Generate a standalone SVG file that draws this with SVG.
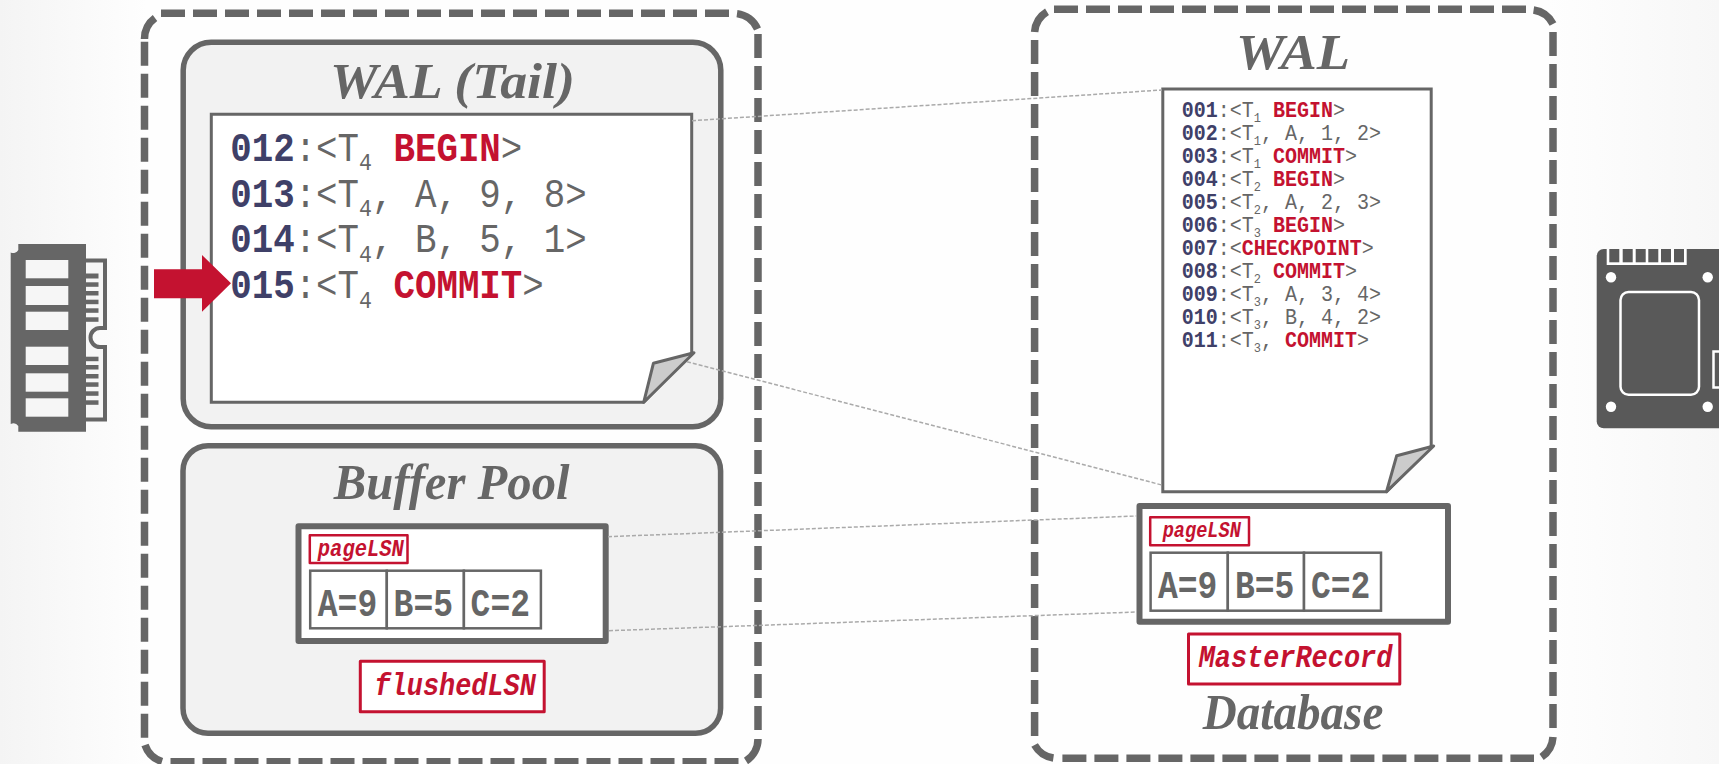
<svg xmlns="http://www.w3.org/2000/svg" width="1719" height="764" viewBox="0 0 1719 764">
<style>
.dash{fill:none;stroke:#666;stroke-width:7.5;stroke-dasharray:24 8}
.arc{fill:none;stroke:#666;stroke-width:7.5}
.panel{fill:#f2f2f2;stroke:#666;stroke-width:5.5}
.doc{fill:#fff;stroke:#666;stroke-width:3;stroke-linejoin:miter}
.fold{fill:#ccc;stroke:#666;stroke-width:3;stroke-linejoin:round}
.page{fill:#fff;stroke:#666;stroke-width:6;stroke-linejoin:round}
.cell{fill:#fff;stroke:#666;stroke-width:2.5}
.tag{fill:#fff;stroke:#c41230;stroke-linejoin:round}
.title{font-family:"Liberation Serif",serif;font-weight:bold;font-style:italic;font-size:51px;fill:#666}
.log{font-family:"Liberation Mono",monospace;fill:#666}
.big{font-size:35.8px}
.small{font-size:20px}
.n{font-weight:bold;fill:#3f4068}
.r{font-weight:bold;fill:#c41230}
.val{font-family:"Liberation Mono",monospace;font-weight:bold;font-size:33px;fill:#666}
.lsn{font-family:"Liberation Mono",monospace;font-weight:bold;font-style:italic;fill:#c41230}
.link{fill:none;stroke:#aaa;stroke-width:1.5;stroke-dasharray:4 2}
.wh{fill:#fff}
.win{fill:#f6f6f6}
.ic{fill:#666}
.ssd{fill:#595959}
.wl{fill:none;stroke:#fff;stroke-width:2.5}
</style>
<defs>
<linearGradient id="bg" x1="0" y1="0" x2="1" y2="0">
<stop offset="0" stop-color="#f4f4f4"/><stop offset="0.085" stop-color="#fefefe"/><stop offset="0.9" stop-color="#fefefe"/><stop offset="1" stop-color="#f7f7f7"/>
</linearGradient>
</defs>
<rect width="1719" height="764" fill="url(#bg)"/>

<g id="memory-icon">
<path class="ic" d="M18.3,244H86V431.7H18.3V426A6,6 0 0 0 10.7,424V252.5A6,6 0 0 0 18.3,250Z"/>
<path d="M86,260.5H105V328H100A9.5,9.5 0 0 0 100,347H105V419.5H86" fill="#f6f6f6" stroke="#666" stroke-width="4"/>
<g class="win">
<rect x="25.7" y="260" width="42.6" height="18.3"/><rect x="25.7" y="286" width="42.6" height="19"/><rect x="25.7" y="311.7" width="42.6" height="18.3"/>
<rect x="25.7" y="346.7" width="42.6" height="18.3"/><rect x="25.7" y="373.3" width="42.6" height="18.4"/><rect x="25.7" y="398.3" width="42.6" height="18.4"/>
</g>
<g class="ic">
<rect x="86" y="273.5" width="12.5" height="5"/><rect x="86" y="282.3" width="12.5" height="4.5"/><rect x="86" y="291" width="12.5" height="4.5"/><rect x="86" y="299.7" width="12.5" height="4.5"/><rect x="86" y="308.3" width="12.5" height="4.5"/><rect x="86" y="317.3" width="12.5" height="4.5"/>
<rect x="86" y="356.7" width="12.5" height="4.5"/><rect x="86" y="365" width="12.5" height="4.5"/><rect x="86" y="374" width="12.5" height="4.5"/><rect x="86" y="382.3" width="12.5" height="4.5"/><rect x="86" y="391.3" width="12.5" height="4.5"/><rect x="86" y="400.3" width="12.5" height="4.5"/>
</g>
</g>

<g id="memory-frame">
<path class="dash" d="M161,13.3H729.5M758,34V731M170.5,761.7H739M144.5,41.7V737.7"/>
<path class="arc" d="M737,13.6A26,26 0 0 1 757.5,29M758,739A26,26 0 0 1 746,761M162,761.5A26,26 0 0 1 145,745M144.5,39A26,26 0 0 1 155,18"/>
</g>

<g id="disk-frame">
<path class="dash" d="M1054,9.3H1526M1553,32V728M1062.4,758.3H1534M1034.6,40V736"/>
<path class="arc" d="M1533.6,10A26,26 0 0 1 1553,24M1553,737A26,26 0 0 1 1541.6,757M1053.4,758A26,26 0 0 1 1034.6,745M1034.6,32A26,26 0 0 1 1047,11.7"/>
</g>

<g id="wal-tail">
<rect class="panel" x="183.2" y="42.3" width="537.6" height="384.4" rx="28"/>
<text class="title" x="330" y="97.7" textLength="245" lengthAdjust="spacingAndGlyphs">WAL (Tail)</text>
<path class="doc" d="M211.3,114.3H691.7V352.7L643.7,402.3H211.3Z"/>
<path class="fold" d="M694,352.7L653.4,363.3L643.7,402.3Z"/>
<g class="log big">
<text transform="translate(230.2,160.7) scale(1,1.13)"><tspan class="n">012</tspan>:&lt;T<tspan font-size="21.5" dy="8.4">4</tspan><tspan dy="-8.4"> </tspan><tspan class="r">BEGIN</tspan>&gt;</text>
<text transform="translate(230.2,206.7) scale(1,1.13)"><tspan class="n">013</tspan>:&lt;T<tspan font-size="21.5" dy="8.4">4</tspan><tspan dy="-8.4">, A, 9, 8&gt;</tspan></text>
<text transform="translate(230.2,252.4) scale(1,1.13)"><tspan class="n">014</tspan>:&lt;T<tspan font-size="21.5" dy="8.4">4</tspan><tspan dy="-8.4">, B, 5, 1&gt;</tspan></text>
<text transform="translate(230.2,298.3) scale(1,1.13)"><tspan class="n">015</tspan>:&lt;T<tspan font-size="21.5" dy="8.4">4</tspan><tspan dy="-8.4"> </tspan><tspan class="r">COMMIT</tspan>&gt;</text>
</g>
</g>

<g id="buffer-pool">
<rect class="panel" x="183" y="445.7" width="537.6" height="287.6" rx="25"/>
<text class="title" x="333.8" y="499" textLength="235.7" lengthAdjust="spacingAndGlyphs">Buffer Pool</text>
</g>

<g id="buffer-page">
<rect class="page" x="298.5" y="526.3" width="307.2" height="114.7"/>
<rect class="tag" stroke-width="2.5" x="309.8" y="535.3" width="97.7" height="27.7"/>
<text class="lsn" font-size="20.5" transform="translate(317.8,556) scale(1,1.15)">pageLSN</text>
<rect class="cell" x="310.2" y="570.7" width="76.6" height="57.6"/>
<rect class="cell" x="386.8" y="570.7" width="77.1" height="57.6"/>
<rect class="cell" x="463.9" y="570.7" width="77" height="57.6"/>
<text class="val" transform="translate(317.8,615.7) scale(1,1.2)">A=9</text>
<text class="val" transform="translate(393.6,615.7) scale(1,1.2)">B=5</text>
<text class="val" transform="translate(470.6,615.7) scale(1,1.2)">C=2</text>
</g>

<g id="flushed-lsn">
<rect class="tag" stroke-width="3" x="360.3" y="661.3" width="183.9" height="50.4"/>
<text class="lsn" font-size="26.9" transform="translate(374.5,695) scale(1,1.15)">flushedLSN</text>
</g>

<g id="wal-disk">
<text class="title" x="1236" y="69.3" textLength="114" lengthAdjust="spacingAndGlyphs">WAL</text>
<path class="doc" d="M1162.8,89H1431.2V446L1386.5,491.7H1162.8Z"/>
<path class="fold" d="M1433.7,446L1396.7,455.7L1386.5,491.7Z"/>
<g class="log small">
<text transform="translate(1181.8,116.7) scale(1,1.13)"><tspan class="n">001</tspan>:&lt;T<tspan font-size="12" dy="4.4">1</tspan><tspan dy="-4.4"> </tspan><tspan class="r">BEGIN</tspan>&gt;</text>
<text transform="translate(1181.8,139.7) scale(1,1.13)"><tspan class="n">002</tspan>:&lt;T<tspan font-size="12" dy="4.4">1</tspan><tspan dy="-4.4">, A, 1, 2&gt;</tspan></text>
<text transform="translate(1181.8,162.7) scale(1,1.13)"><tspan class="n">003</tspan>:&lt;T<tspan font-size="12" dy="4.4">1</tspan><tspan dy="-4.4"> </tspan><tspan class="r">COMMIT</tspan>&gt;</text>
<text transform="translate(1181.8,185.7) scale(1,1.13)"><tspan class="n">004</tspan>:&lt;T<tspan font-size="12" dy="4.4">2</tspan><tspan dy="-4.4"> </tspan><tspan class="r">BEGIN</tspan>&gt;</text>
<text transform="translate(1181.8,208.7) scale(1,1.13)"><tspan class="n">005</tspan>:&lt;T<tspan font-size="12" dy="4.4">2</tspan><tspan dy="-4.4">, A, 2, 3&gt;</tspan></text>
<text transform="translate(1181.8,231.7) scale(1,1.13)"><tspan class="n">006</tspan>:&lt;T<tspan font-size="12" dy="4.4">3</tspan><tspan dy="-4.4"> </tspan><tspan class="r">BEGIN</tspan>&gt;</text>
<text transform="translate(1181.8,254.7) scale(1,1.13)"><tspan class="n">007</tspan>:&lt;<tspan class="r">CHECKPOINT</tspan>&gt;</text>
<text transform="translate(1181.8,277.7) scale(1,1.13)"><tspan class="n">008</tspan>:&lt;T<tspan font-size="12" dy="4.4">2</tspan><tspan dy="-4.4"> </tspan><tspan class="r">COMMIT</tspan>&gt;</text>
<text transform="translate(1181.8,300.7) scale(1,1.13)"><tspan class="n">009</tspan>:&lt;T<tspan font-size="12" dy="4.4">3</tspan><tspan dy="-4.4">, A, 3, 4&gt;</tspan></text>
<text transform="translate(1181.8,323.7) scale(1,1.13)"><tspan class="n">010</tspan>:&lt;T<tspan font-size="12" dy="4.4">3</tspan><tspan dy="-4.4">, B, 4, 2&gt;</tspan></text>
<text transform="translate(1181.8,346.7) scale(1,1.13)"><tspan class="n">011</tspan>:&lt;T<tspan font-size="12" dy="4.4">3</tspan><tspan dy="-4.4">, </tspan><tspan class="r">COMMIT</tspan>&gt;</text>
</g>
</g>

<g id="disk-page">
<rect class="page" x="1139.5" y="506" width="308.5" height="115.7"/>
<rect class="tag" stroke-width="2.5" x="1150.2" y="517.3" width="98.8" height="28"/>
<text class="lsn" font-size="18.6" transform="translate(1162.7,537.3) scale(1,1.15)">pageLSN</text>
<rect class="cell" x="1150.6" y="552.7" width="77.2" height="58"/>
<rect class="cell" x="1227.8" y="552.7" width="76.2" height="58"/>
<rect class="cell" x="1304" y="552.7" width="77" height="58"/>
<text class="val" transform="translate(1158,597.7) scale(1,1.2)">A=9</text>
<text class="val" transform="translate(1234.9,597.7) scale(1,1.2)">B=5</text>
<text class="val" transform="translate(1311,597.7) scale(1,1.2)">C=2</text>
</g>

<g id="master-record">
<rect class="tag" stroke-width="3" x="1188.5" y="634" width="211.3" height="50"/>
<text class="lsn" font-size="26.9" transform="translate(1198.7,666.7) scale(1,1.15)">MasterRecord</text>
</g>

<g id="database-label">
<text class="title" x="1202.8" y="729.3" textLength="180.5" lengthAdjust="spacingAndGlyphs">Database</text>
</g>

<g id="connectors">
<path class="link" d="M692,120.7L1162,90"/>
<path class="link" d="M687,361.7L1161.8,485"/>
<path class="link" d="M608,536.7L1136.8,516"/>
<path class="link" d="M609,630.7L1136.8,612"/>
</g>

<g id="flush-arrow">
<path fill="#c41230" d="M154,269.3H202V255L231,283.3L202,311.7V298.3H154Z"/>
</g>

<g id="disk-icon">
<rect class="ssd" x="1596.7" y="249" width="140" height="179.3" rx="7"/>
<rect class="wh" x="1606.7" y="249" width="80" height="16"/>
<g class="ssd">
<rect x="1609.3" y="249" width="10" height="13.3"/><rect x="1622.7" y="249" width="10" height="13.3"/><rect x="1635.7" y="249" width="10" height="13.3"/><rect x="1648.3" y="249" width="10" height="13.3"/><rect x="1661" y="249" width="10" height="13.3"/><rect x="1674" y="249" width="10" height="13.3"/>
</g>
<g class="wh">
<circle cx="1611" cy="277.3" r="5.2"/><circle cx="1707.7" cy="277.3" r="5.2"/><circle cx="1611" cy="406.7" r="5.2"/><circle cx="1707.7" cy="406.7" r="5.2"/>
</g>
<rect class="wl" x="1620.5" y="292" width="78.5" height="102.7" rx="8"/>
<path class="wl" d="M1725,351.5H1713.5V387.5H1725"/>
</g>
</svg>
